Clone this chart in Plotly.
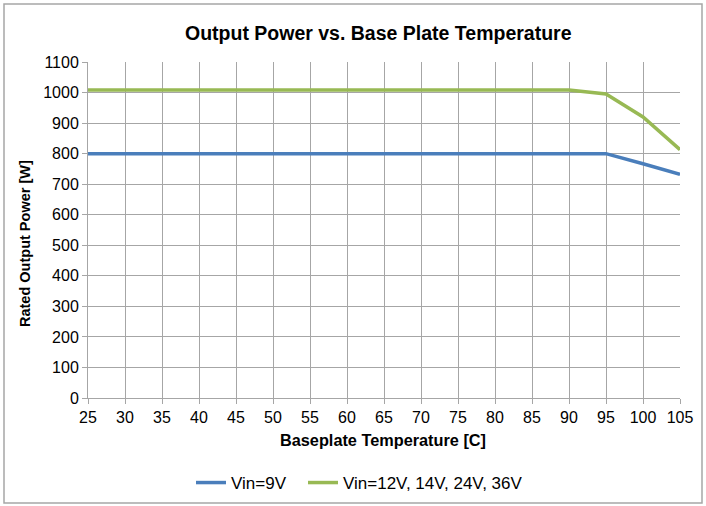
import plotly.graph_objects as go

temps = [25, 30, 35, 40, 45, 50, 55, 60, 65, 70, 75, 80, 85, 90, 95, 100, 105]
vin9 = [800, 800, 800, 800, 800, 800, 800, 800, 800, 800, 800, 800, 800, 800, 800, 767, 732]
vin_hi = [1008, 1008, 1008, 1008, 1008, 1008, 1008, 1008, 1008, 1008, 1008, 1008, 1008, 1008, 995, 920, 813]
names = ["Vin=9V", "Vin=12V, 14V, 24V, 36V"]
colors = ["#4a7ebb", "#98b954"]
legend_ids = ["legend", "legend2"]

fig = go.Figure()
for ys, n, c, lg in zip([vin9, vin_hi], names, colors, legend_ids):
    fig.add_trace(go.Scatter(x=temps, y=ys, mode="lines", name=n, legend=lg,
                             line=dict(color=c, width=3.5)))

font = "Liberation Sans, Arial, sans-serif"
L, R, T, B = 88, 26, 62, 108
W, H = 706, 506
pw, ph = W - L - R, H - T - B

def px(x):
    return (x - L) / pw

def py(y):
    return (H - B - y) / ph

leg_common = dict(orientation="h", xanchor="left", y=py(483),
                  yanchor="middle", font=dict(size=17), itemwidth=30,
                  bgcolor="rgba(0,0,0,0)")

fig.update_layout(
    width=W, height=H,
    margin=dict(l=L, r=R, t=T, b=B, autoexpand=False),
    paper_bgcolor="white", plot_bgcolor="white",
    font=dict(family=font, size=16, color="#000000"),
    showlegend=True,
    xaxis=dict(range=[25, 105], tickvals=temps, showgrid=True,
               gridcolor="#a6a6a6", gridwidth=1, zeroline=False,
               showline=True, linecolor="#a6a6a6", ticks="outside",
               ticklen=5, tickcolor="#a6a6a6", automargin=False,
               tickfont=dict(size=16)),
    yaxis=dict(range=[0, 1100], dtick=100, showgrid=True,
               gridcolor="#a6a6a6", gridwidth=1, zeroline=False,
               showline=True, linecolor="#a6a6a6", ticks="outside",
               ticklen=5, tickcolor="#a6a6a6", automargin=False,
               tickfont=dict(size=16)),
    legend=dict(x=px(191), **leg_common),
    legend2=dict(x=px(303), **leg_common),
)
fig.add_annotation(text="<b>Output Power vs. Base Plate Temperature</b>",
                   xref="paper", yref="paper", x=px(378), y=py(33),
                   xanchor="center", yanchor="middle",
                   showarrow=False, font=dict(size=19.5))
fig.add_annotation(text="<b>Baseplate Temperature [C]</b>",
                   xref="paper", yref="paper", x=px(383), y=py(440),
                   xanchor="center", yanchor="middle",
                   showarrow=False, font=dict(size=16.3))
fig.add_annotation(text="<b>Rated Output Power [W]</b>",
                   xref="paper", yref="paper", x=px(25), y=py(244),
                   xanchor="center", yanchor="middle",
                   showarrow=False, textangle=-90, font=dict(size=14.5))
fig.add_shape(type="rect", xref="paper", yref="paper",
              x0=px(4), x1=px(702), y0=py(503), y1=py(4),
              line=dict(color="#a6a6a6", width=1.5))
fig.write_html("out.html", config={"displayModeBar": False},
               post_script="document.body.style.margin='0';document.body.style.padding='0';")
